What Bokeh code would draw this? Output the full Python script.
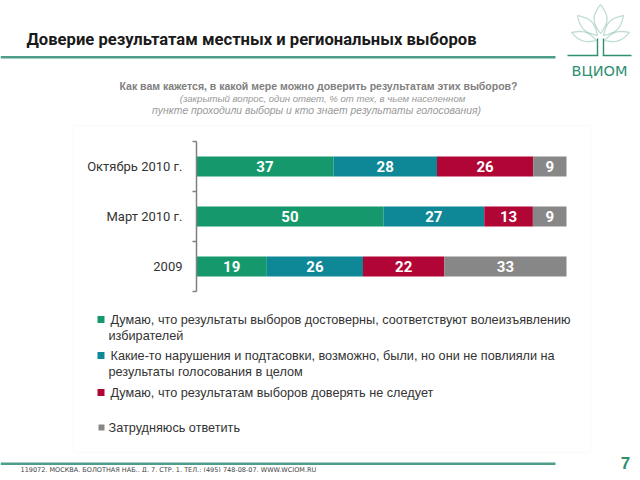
import numpy as np
from bokeh.plotting import figure
from bokeh.models import (Range1d, FixedTicker, ColumnDataSource, Label, BoxAnnotation,
                          PolyAnnotation, LinearAxis)
from bokeh.core.properties import value
from bokeh.embed import file_html
from bokeh.resources import INLINE

# ---------------- data ----------------
categories = ["2009", "Март 2010 г.", "Октябрь 2010 г."]
trust = [19, 50, 37]
violations = [26, 27, 28]
distrust = [22, 13, 26]
hard_to_say = [33, 9, 9]
series_labels = [
    ["Думаю, что результаты выборов достоверны, соответствуют волеизъявлению", "избирателей"],
    ["Какие-то нарушения и подтасовки, возможно, были, но они не повлияли на", "результаты голосования в целом"],
    ["Думаю, что результатам выборов доверять не следует"],
    ["Затрудняюсь ответить"],
]
colors = ["#15996c", "#0e8796", "#b10535", "#878787"]

title_text = "Доверие результатам местных и региональных выборов"
subtitle_lines = [
    "Как вам кажется, в какой мере можно доверить результатам этих выборов?",
    "(закрытый вопрос, один ответ, % от тех, в чьем населенном",
    "пункте проходили выборы и кто знает результаты голосования)",
]
footer_text = "119072, МОСКВА, БОЛОТНАЯ НАБ., Д. 7, СТР. 1, ТЕЛ.: (495) 748-08-07, WWW.WCIOM.RU"
page_number = "7"
brand = "ВЦИОМ"

# ---------------- layout (canvas pixels) ----------------
W, H = 632, 472
FL, FR, FT, FB = 196, 566, 141, 291   # where the 0..100 x 0..n bar area lies
n = len(categories)
PXX = (FR - FL) / 100.0
PXY = (FB - FT) / float(n)


def X(px):
    return (px - FL) / PXX


def Y(py):
    return (FB - py) / PXY


p = figure(width=W, height=H, output_backend="svg", toolbar_location=None,
           x_range=Range1d(X(0), X(W)), y_range=Range1d(Y(H), Y(0)),
           min_border=0, min_border_left=0, min_border_right=0,
           min_border_top=0, min_border_bottom=0,
           x_axis_location=None, y_axis_location=None)
p.grid.visible = False
p.outline_line_color = None
p.background_fill_color = "white"
p.border_fill_color = "white"

# ---------------- bars ----------------
vals = np.array([trust, violations, distrust, hard_to_say], dtype=float)
pct = vals / vals.sum(axis=0) * 100.0
right = np.cumsum(pct, axis=0)
left = right - pct
ypos = np.arange(n) + 0.5

for i in range(4):
    src = ColumnDataSource(dict(y=ypos, left=left[i], right=right[i],
                                mid=(left[i] + right[i]) / 2, txt=[str(int(v)) for v in vals[i]]))
    p.hbar(y="y", left="left", right="right", height=0.4, source=src,
           fill_color=colors[i], line_color=None)
    p.text(x="mid", y="y", text="txt", source=src, text_color="white",
           text_font=value("Roboto"), text_font_style="bold", text_font_size="15px",
           text_align="center", text_baseline="middle")

# ---------------- axis (fixed at x = 0) ----------------
ax = LinearAxis(fixed_location=0, bounds=(0, n))
ax.ticker = FixedTicker(ticks=list(ypos), minor_ticks=list(range(n + 1)))
ax.major_label_overrides = {float(y): c for y, c in zip(ypos, categories)}
ax.axis_line_color = "#808080"
ax.axis_line_width = 1.5
ax.major_tick_line_color = None
ax.major_tick_out = 0
ax.major_tick_in = 0
ax.minor_tick_line_color = "#808080"
ax.minor_tick_line_width = 1.5
ax.minor_tick_out = 4
ax.minor_tick_in = 0
ax.major_label_standoff = 10
ax.major_label_text_font = "Roboto"
ax.major_label_text_font_size = "13px"
ax.major_label_text_color = "#333333"
p.add_layout(ax, "left")

# ---------------- decorations ----------------
line_green = "#4e9c8a"
logo_green = "#2f8f6f"

# faint chart border
p.add_layout(BoxAnnotation(left=X(73), right=X(590), top=Y(125), bottom=Y(452),
                           fill_color=None, line_color="#f0f0f0", line_width=1))

p.add_layout(Label(x=X(26), y=Y(39), text=title_text, text_font="Roboto", text_font_style="bold",
                   text_font_size="16.6px", text_color="#1a1a1a", text_baseline="middle"))
p.add_layout(BoxAnnotation(left=X(0), right=X(555), top=Y(55.5), bottom=Y(58),
                           fill_color=line_green, fill_alpha=1, line_color=None))
p.add_layout(BoxAnnotation(left=X(0), right=X(555), top=Y(462), bottom=Y(464.5),
                           fill_color=line_green, fill_alpha=1, line_color=None))

sub_y = [85, 97.5, 109.5]
sub_x = [318, 322, 316]
sub_size = ["10.5px", "9.6px", "10.4px"]
for k, (t, yy) in enumerate(zip(subtitle_lines, sub_y)):
    p.add_layout(Label(x=X(sub_x[k]), y=Y(yy), text=t, text_font="Liberation Sans",
                       text_font_style="bold" if k == 0 else "italic",
                       text_font_size=sub_size[k],
                       text_color="#808080" if k == 0 else "#999999",
                       text_align="center", text_baseline="middle"))

# legend
leg_y = [319, 355, 392, 427]
for i, (lines, yy) in enumerate(zip(series_labels, leg_y)):
    s = 7 if i < 3 else 6
    x0 = 97 if i < 3 else 98
    p.add_layout(BoxAnnotation(left=X(x0), right=X(x0 + s), top=Y(yy - s / 2), bottom=Y(yy + s / 2),
                               fill_color=colors[i], fill_alpha=1, line_color=None))
    for j, t in enumerate(lines):
        p.add_layout(Label(x=X(110 if (j == 0 and i < 3) else 108), y=Y(yy + 16 * j), text=t,
                           text_font="Liberation Sans", text_font_size="12.7px", text_color="#333333",
                           text_baseline="middle"))

# footer
p.add_layout(Label(x=X(20), y=Y(469), text=footer_text, text_font="DejaVu Sans",
                   text_font_size="6.5px", text_color="#444444", text_baseline="middle"))
p.add_layout(Label(x=X(625), y=Y(462), text=page_number, text_font="Liberation Sans",
                   text_font_style="bold", text_font_size="17px", text_color=logo_green,
                   text_align="center", text_baseline="middle"))

# logo
p.add_layout(Label(x=X(599), y=Y(70), text=brand, text_font="DejaVu Sans", text_font_size="14.5px",
                   text_color=logo_green, text_align="center", text_baseline="middle"))


def leaf(base, tip, w, m=14):
    bx, by = base
    tx, ty = tip
    L = np.hypot(tx - bx, ty - by)
    ux, uy = (tx - bx) / L, (ty - by) / L
    nx, ny = -uy, ux
    t = np.linspace(0, 1, m)
    hw = w / 2 * np.sin(np.pi * t)
    xs1 = bx + ux * L * t + nx * hw
    ys1 = by + uy * L * t + ny * hw
    xs2 = bx + ux * L * t - nx * hw
    ys2 = by + uy * L * t - ny * hw
    xs = np.concatenate([xs1, xs2[::-1]])
    ys = np.concatenate([ys1, ys2[::-1]])
    return [float(X(v)) for v in xs], [float(Y(v)) for v in ys]


leaves = [((600, 33), (600, 4), 13), ((597, 35), (577, 15), 11), ((603, 35), (623, 15), 11),
          ((596, 40), (571, 32), 9), ((604, 40), (629, 32), 9)]
for b, t, w in leaves:
    xs, ys = leaf(b, t, w)
    p.add_layout(PolyAnnotation(xs=xs, ys=ys, fill_color=None, fill_alpha=0,
                                line_color=logo_green, line_width=1.3))
for bx in (597, 603):
    p.add_layout(BoxAnnotation(left=X(bx - 0.7), right=X(bx + 0.7), top=Y(38), bottom=Y(55.5),
                               fill_color=logo_green, fill_alpha=1, line_color=None))
p.add_layout(BoxAnnotation(left=X(567), right=X(597.7), top=Y(54.3), bottom=Y(55.7),
                           fill_color=logo_green, fill_alpha=1, line_color=None))
p.add_layout(BoxAnnotation(left=X(602.3), right=X(631), top=Y(54.3), bottom=Y(55.7),
                           fill_color=logo_green, fill_alpha=1, line_color=None))

open("out.html", "w").write(file_html(p, INLINE))
